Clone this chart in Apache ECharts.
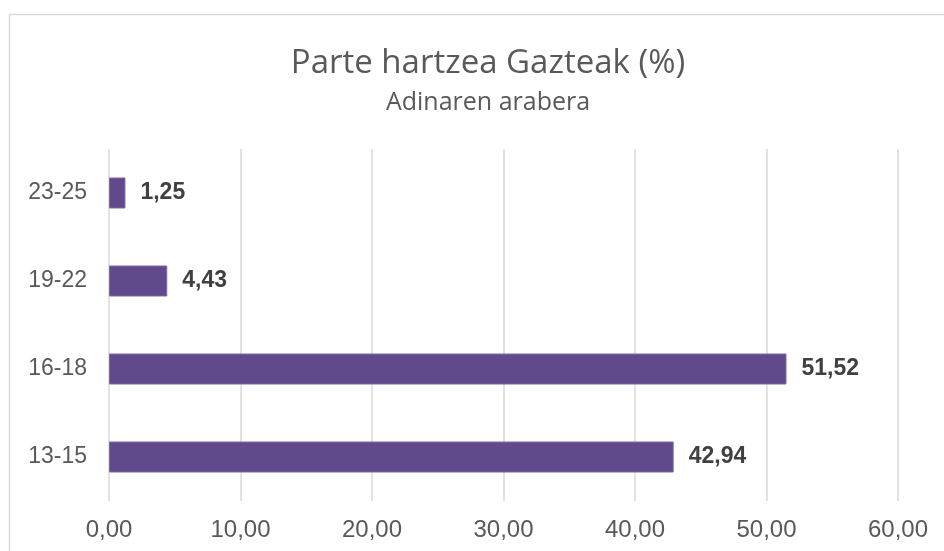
<!DOCTYPE html>
<html>
<head>
<meta charset="utf-8">
<script src="https://cdn.jsdelivr.net/npm/echarts@6/dist/echarts.min.js"></script>
<style>
html, body { margin: 0; padding: 0; background: #fff; }
#chart { width: 944px; height: 551px; }
</style>
</head>
<body>
<div id="chart"></div>
<script>
// adin taldeak (behetik gora)
const categories = ['13-15', '16-18', '19-22', '23-25']
const values = [42.94, 51.52, 4.43, 1.25]
const xTicks = [0, 10, 20, 30, 40, 50, 60]

const fmt = v => Number(v).toFixed(2).replace('.', ',')

const myChart = echarts.init(document.getElementById('chart'))
myChart.setOption({
  animation: false,
  graphic: [{
    type: 'rect',
    shape: { x: 9.5, y: 14.5, width: 960, height: 560 },
    style: { fill: 'none', stroke: '#d9d9d9', lineWidth: 1.5 },
    silent: true
  }],
  title: [
    {
      text: 'Parte hartzea Gazteak (%)',
      left: 483,
      top: 42,
      textAlign: 'center',
      textStyle: { color: '#595959', fontSize: 33, fontWeight: 'normal', fontFamily: 'Open Sans' }
    },
    {
      text: 'Adinaren arabera',
      left: 483,
      top: 85,
      textAlign: 'center',
      textStyle: { color: '#595959', fontSize: 25, fontWeight: 'normal', fontFamily: 'Open Sans' }
    }
  ],
  grid: { left: 109, right: 46, top: 149, bottom: 50, containLabel: false },
  xAxis: {
    type: 'value',
    min: xTicks[0],
    max: xTicks[xTicks.length - 1],
    interval: 10,
    axisLine: { show: false },
    axisTick: { show: false },
    splitLine: { lineStyle: { color: '#d9d9d9', width: 1.5 } },
    axisLabel: {
      formatter: fmt,
      color: '#595959',
      fontSize: 24,
      fontFamily: 'Liberation Sans',
      margin: 17
    }
  },
  yAxis: {
    type: 'category',
    data: categories,
    axisLine: { show: false },
    axisTick: { show: false },
    axisLabel: {
      color: '#595959',
      fontSize: 23,
      fontFamily: 'Liberation Sans',
      margin: 22
    }
  },
  series: [{
    type: 'bar',
    data: values,
    barWidth: 31,
    itemStyle: { color: '#604a8c', borderColor: '#7c68a6', borderWidth: 1 },
    label: {
      show: true,
      position: 'right',
      distance: 15,
      formatter: p => fmt(p.value),
      color: '#404040',
      fontSize: 23,
      fontWeight: 'bold',
      fontFamily: 'Liberation Sans'
    }
  }]
})
</script>
</body>
</html>
